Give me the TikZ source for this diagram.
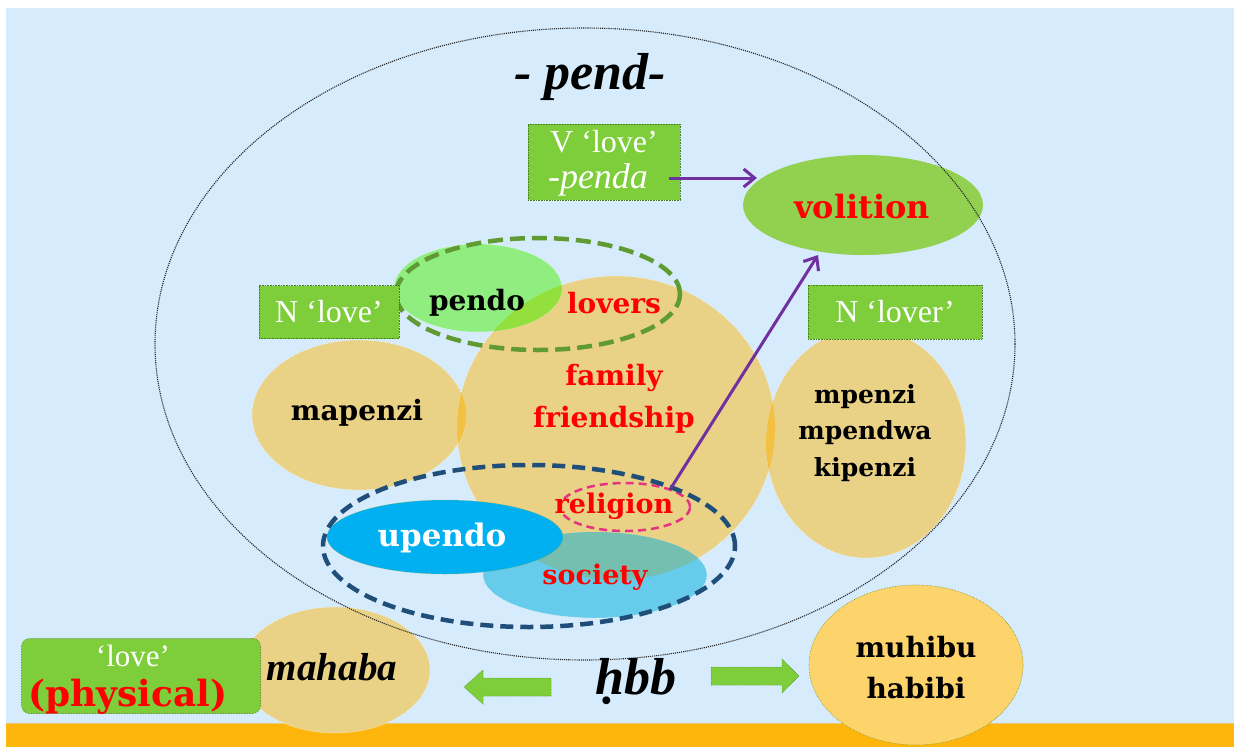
\documentclass[tikz,border=0pt]{standalone}
\usepackage{fontspec}
\setmainfont{Liberation Serif}
\newfontfamily\dvs{DejaVu Serif}
\usetikzlibrary{shapes.geometric,arrows.meta}
\definecolor{bgblue}{RGB}{214,235,252}
\definecolor{barorange}{RGB}{254,182,12}
\definecolor{barline}{RGB}{232,200,120}
\definecolor{boxgreen}{RGB}{125,206,58}
\definecolor{volgreen}{RGB}{146,208,80}
\definecolor{tan}{RGB}{233,209,134}
\definecolor{overlap}{RGB}{244,192,66}
\definecolor{pendogreen}{RGB}{144,238,128}
\definecolor{pendoover}{RGB}{147,224,60}
\definecolor{dashgreen}{RGB}{95,155,48}
\definecolor{upblue}{RGB}{0,176,240}
\definecolor{socblue}{RGB}{103,204,235}
\definecolor{socover}{RGB}{117,191,176}
\definecolor{dashblue}{RGB}{31,78,121}
\definecolor{pink}{RGB}{230,50,130}
\definecolor{purp}{RGB}{112,48,160}
\definecolor{muhibu}{RGB}{253,211,108}
\definecolor{txtred}{RGB}{255,0,0}
\newcommand{\fsz}[2]{\fontsize{#1}{#2}\selectfont}
\begin{document}
\begin{tikzpicture}[x=1pt,y=-1pt,
  every node/.style={inner sep=0pt,outer sep=0pt},
  tanell/.style={ellipse,fill=tan,draw=white,densely dotted,line width=0.5pt},
  greenbox/.style={rectangle,fill=boxgreen,draw=boxgreen!60!black,densely dotted,line width=0.6pt},
  bld/.style={font=\dvs\bfseries\fsz{#1}{#1}},
  redbld/.style={text=txtred,font=\dvs\bfseries\fsz{#1}{#1}},
  wht/.style={text=white,font=\fsz{#1}{#1}},
  parrow/.style={draw=purp,line width=3pt,-{Straight Barb[length=11pt,width=18pt,line width=3pt]}},
  blockarrow/.style={fill=boxgreen,draw=boxgreen!60!black,densely dotted,line width=0.5pt}
]
\useasboundingbox (0,0) rectangle (1234,747);
\fill[white] (0,0) rectangle (1234,747);
\fill[bgblue] (6,8) rectangle (1234,724);
\fill[barorange] (6,723) rectangle (1234,747);
\draw[barline,line width=1pt] (6,723) -- (1234,723);

% tan ellipses
\node[tanell,minimum width=214pt,minimum height=150pt] (mapE) at (359,415) {};
\node[tanell,minimum width=318pt,minimum height=304pt] (famE) at (616,428) {};
\node[tanell,minimum width=200pt,minimum height=230pt] (mpE) at (866,443) {};
\begin{scope}
  \clip (616,428) ellipse [x radius=159pt,y radius=152pt];
  \fill[overlap] (359,415) ellipse [x radius=107pt,y radius=75pt];
  \fill[overlap] (866,443) ellipse [x radius=100pt,y radius=115pt];
\end{scope}

% pendo
\node[ellipse,fill=pendogreen,draw=white,densely dotted,line width=0.5pt,minimum width=168pt,minimum height=88pt] (pendoE) at (478,288) {};
\begin{scope}
  \clip (616,428) ellipse [x radius=159pt,y radius=152pt];
  \fill[pendoover] (478,288) ellipse [x radius=84pt,y radius=44pt];
\end{scope}
\node[ellipse,draw=dashgreen,dash pattern=on 15pt off 7pt,line width=4.5pt,minimum width=284pt,minimum height=112pt] (loversE) at (538,294) {};

% society / upendo
\node[ellipse,fill=socblue,draw=white,densely dotted,line width=0.5pt,minimum width=224pt,minimum height=86pt] (socE) at (595,575) {};
\begin{scope}
  \clip (616,428) ellipse [x radius=159pt,y radius=152pt];
  \fill[socover] (595,575) ellipse [x radius=112pt,y radius=43pt];
\end{scope}
\node[ellipse,fill=upblue,draw=olive!70,densely dotted,line width=0.5pt,minimum width=236pt,minimum height=74pt] (upE) at (445,537) {};
\node[ellipse,draw=pink,dash pattern=on 8pt off 5pt,line width=2.5pt,minimum width=130pt,minimum height=48pt] (relE) at (625,507) {};
\node[ellipse,draw=dashblue,dash pattern=on 13pt off 7pt,line width=4.5pt,minimum width=412pt,minimum height=162pt] (commE) at (529,546) {};

% volition
\node[ellipse,fill=volgreen,minimum width=240pt,minimum height=100pt] (volE) at (863,205) {};

% mahaba
\node[tanell,minimum width=190pt,minimum height=126pt] (mahE) at (335,670) {};

% big dotted ellipse
\node[ellipse,draw=black!85,densely dotted,line width=1.1pt,minimum width=860pt,minimum height=632pt] (bigE) at (585,344) {};

% muhibu
\node[ellipse,fill=muhibu,draw=olive!80!green,densely dotted,line width=0.6pt,minimum width=214pt,minimum height=160pt] (muE) at (916,665) {};

% boxes
\node[greenbox,minimum width=152pt,minimum height=76pt] (vbox) at (604,162) {};
\node[wht=32] (vtxt1) at (604,142) {V ‘love’};
\node[text=white,font=\itshape\fsz{36}{36}] (vtxt2) at (598,180) {-penda};
\node[greenbox,minimum width=140pt,minimum height=53pt] (nlove) at (329,312) {};
\node[wht=32] at (nlove) {N ‘love’};
\node[greenbox,minimum width=174pt,minimum height=54pt] (nlover) at (895,312) {};
\node[wht=32] at (nlover) {N ‘lover’};
\node[rectangle,rounded corners=8pt,fill=boxgreen,draw=boxgreen!60!black,densely dotted,line width=0.6pt,minimum width=239pt,minimum height=75pt] (physbox) at (141,676) {};
\node[wht=31] (lovetxt) at (133,656) {‘love’};
\node[redbld=36] (phys) at (128,697) {(physical)};

% texts
\node[font=\bfseries\itshape\fsz{52}{52}] (pend) at (590,77) {- pend-};
\node[redbld=32] (vol) at (862,207) {volition};
\node[bld=28] (pendo) at (477,303) {pendo};
\node[redbld=28] (lovers) at (614,303) {lovers};
\node[redbld=28,align=center,font=\dvs\bfseries\fsz{28}{42}] (fam) at (614,399) {family\\friendship};
\node[bld=28] (mapenzi) at (357,413) {mapenzi};
\node[align=center,font=\dvs\bfseries\fsz{25}{36.5}] (mpenzi) at (865,433) {mpenzi\\mpendwa\\kipenzi};
\node[redbld=27] (religion) at (614,506) {religion};
\node[text=white,font=\dvs\bfseries\fsz{31}{31}] (upendo) at (442,538) {upendo};
\node[redbld=27] (society) at (595,577) {society};
\node[font=\bfseries\itshape\fsz{39}{39}] (mahaba) at (332,667) {mahaba};
\node[font=\bfseries\itshape\fsz{52}{52}] (hbb) at (636,682) {ḥbb};
\node[align=center,font=\dvs\bfseries\fsz{28}{41}] (muhibu) at (916,668) {muhibu\\habibi};

% block arrows
\path[blockarrow] (464,687) -- (483,670) -- (483,678) -- (551,678) -- (551,696) -- (483,696) -- (483,704) -- cycle;
\path[blockarrow] (799,676) -- (782,659) -- (782,667) -- (711,667) -- (711,685) -- (782,685) -- (782,693) -- cycle;

% purple arrows
\coordinate (va) at (669,178);
\coordinate (vb) at (757,178);
\draw[parrow] (va) -- (vb);
\coordinate (relstart) at (671,488);
\coordinate (volin) at (818,255);
\draw[parrow] (relstart) -- (volin);
\end{tikzpicture}
\end{document}
